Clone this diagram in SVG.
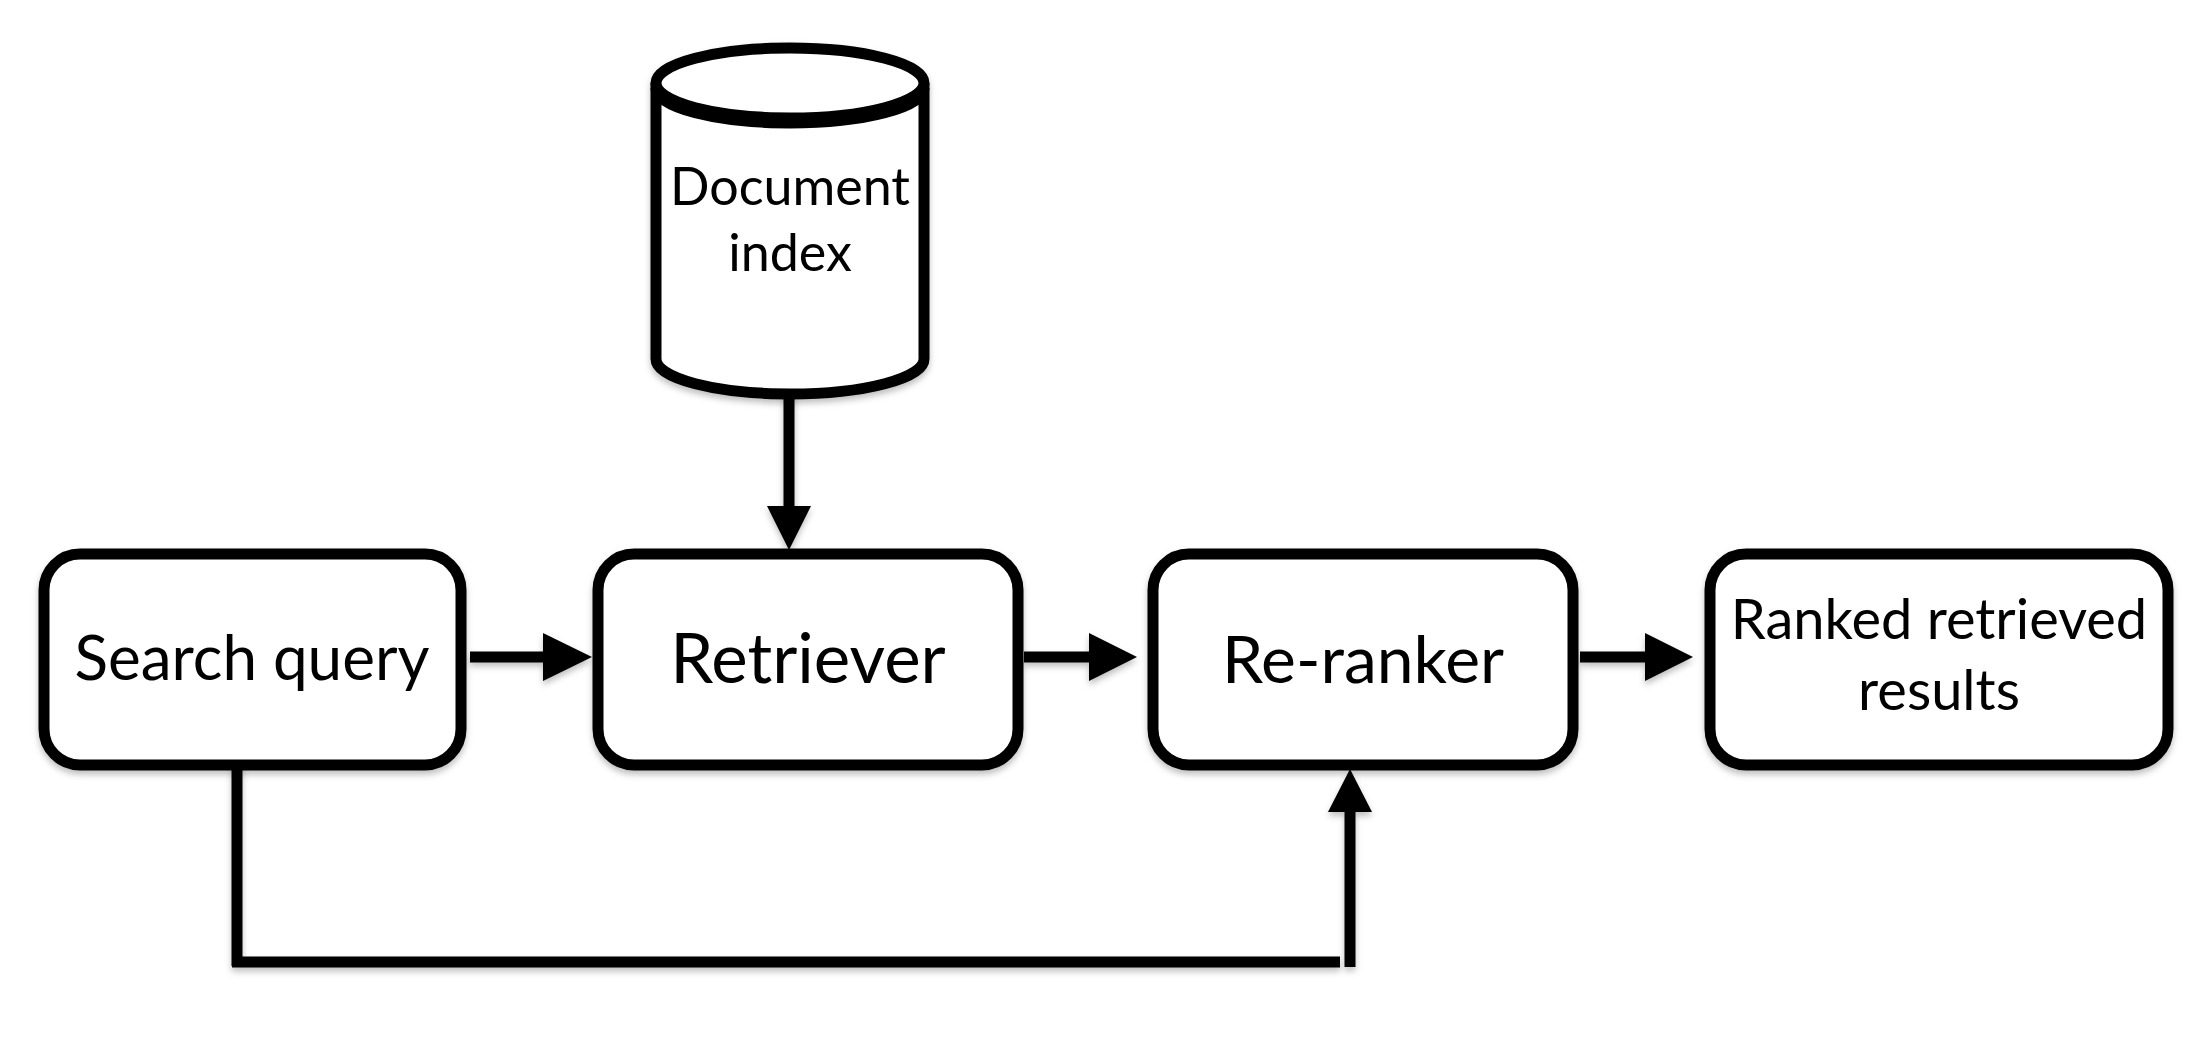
<svg xmlns="http://www.w3.org/2000/svg" width="2212" height="1040" viewBox="0 0 2212 1040">
<style>
.box{fill:#fff;stroke:#000;stroke-width:11}
.ln{fill:none;stroke:#000;stroke-width:11}
.t{font-family:Lato,"Noto Sans",sans-serif;fill:#000;text-anchor:middle}
</style>
<defs>
<filter id="sh" x="-10%" y="-10%" width="120%" height="130%">
<feDropShadow dx="0" dy="4" stdDeviation="3" flood-color="#000" flood-opacity="0.25"/>
</filter>
</defs>
<rect width="2212" height="1040" fill="#fff"/>
<g id="connectors" filter="url(#sh)">
<line class="ln" x1="789" y1="392" x2="789" y2="510"/>
<polygon points="767,506 811,506 789,550"/>
<line class="ln" x1="470" y1="657" x2="548" y2="657"/>
<polygon points="543,633 543,681 592,657"/>
<line class="ln" x1="1024" y1="657" x2="1092" y2="657"/>
<polygon points="1089,633 1089,681 1137,657"/>
<line class="ln" x1="1580" y1="657" x2="1648" y2="657"/>
<polygon points="1645,633 1645,681 1693,657"/>
<path class="ln" d="M237,765 V966 M232,962 H1340 M1350,967 V808"/>
<polygon points="1328,812 1372,812 1350,769"/>
</g>
<g id="doc-index" filter="url(#sh)">
<path class="box" d="M656,83 V359 A134,35 0 0 0 924,359 V83 A134,35 0 0 1 656,83 Z"/>
<path class="ln" d="M656,88 A134,35 0 0 0 924,88"/>
<ellipse class="box" cx="790" cy="83" rx="134" ry="35"/>
<text class="t" x="790" y="205" font-size="52">Document</text>
<text class="t" x="790" y="271" font-size="52">index</text>
</g>
<g id="search-query" filter="url(#sh)">
<rect class="box" x="44" y="554" width="417" height="211" rx="36"/>
<text class="t" x="252" y="680" font-size="62">Search query</text>
</g>
<g id="retriever" filter="url(#sh)">
<rect class="box" x="598" y="554" width="420" height="211" rx="36"/>
<text class="t" x="808" y="683" font-size="69">Retriever</text>
</g>
<g id="re-ranker" filter="url(#sh)">
<rect class="box" x="1153" y="554" width="420" height="211" rx="36"/>
<text class="t" x="1363" y="683" font-size="66">Re-ranker</text>
</g>
<g id="ranked-results" filter="url(#sh)">
<rect class="box" x="1710" y="554" width="458" height="211" rx="36"/>
<text class="t" x="1939" y="639" font-size="56">Ranked retrieved</text>
<text class="t" x="1939" y="710" font-size="56">results</text>
</g>
</svg>
